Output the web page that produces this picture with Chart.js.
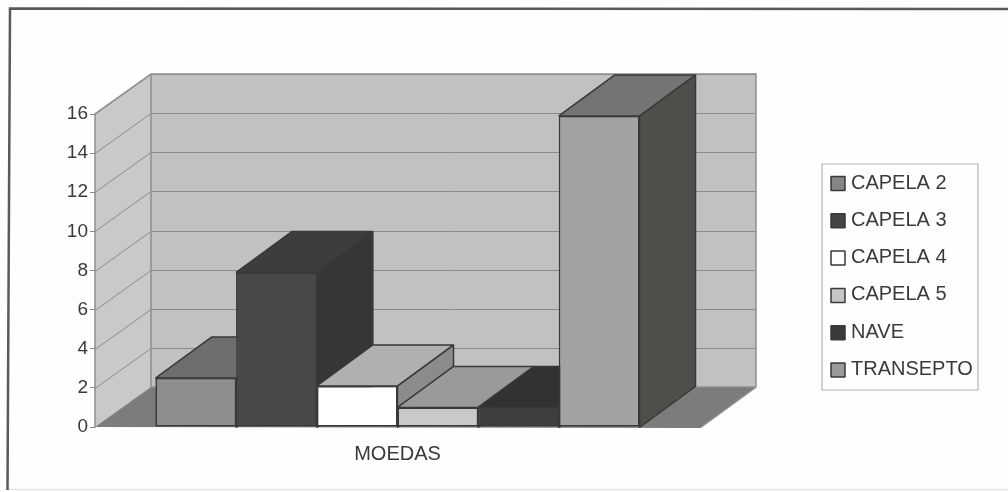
<!DOCTYPE html>
<html><head><meta charset="utf-8">
<style>html,body{margin:0;padding:0;background:#fff}canvas{display:block}</style>
<script src="https://cdn.jsdelivr.net/npm/chart.js@4"></script>
</head><body>
<canvas id="c" width="1008" height="492"></canvas>
<script>
const categories = ['MOEDAS'];
const seriesNames = ['CAPELA 2','CAPELA 3','CAPELA 4','CAPELA 5','NAVE','TRANSEPTO'];
const capela2 = [2.5];
const capela3 = [7.9];
const capela4 = [2.1];
const capela5 = [1];
const nave = [1];
const transepto = [15.9];
const seriesValues = [capela2,capela3,capela4,capela5,nave,transepto];

const frontColors = ['#8e8e8d','#4a4846','#ffffff','#c9c9c9','#403e3c','#a2a2a2'];
const topColors   = ['#706e6c','#3f3d3b','#b0b0b0','#9a9a9a','#343230','#767472'];
const sideColors  = ['#5e5c5a','#383634','#8b8b8a','#777','#2e2c2a','#504e4b'];
const legendColors= ['#858585','#474543','#ffffff','#c6c6c6','#3c3a38','#9a9a9a'];
const DX = 56, DY = 41, INK = '#3a3838', LINE = '#8a8a8a';
const FAMILY = '"Liberation Sans", Arial, sans-serif';

function poly(ctx, pts, fill, stroke, lw){
  ctx.beginPath();
  pts.forEach((p,i)=> i?ctx.lineTo(p[0],p[1]):ctx.moveTo(p[0],p[1]));
  ctx.closePath();
  if(fill){ctx.fillStyle=fill;ctx.fill();}
  if(stroke){ctx.strokeStyle=stroke;ctx.lineWidth=lw||1;ctx.lineJoin='bevel';ctx.stroke();}
}
const scene = {
  id:'scene',
  beforeDraw(chart){
    const ctx = chart.ctx;
    ctx.fillStyle = '#fefefe'; ctx.fillRect(0,0,1008,492);
    ctx.strokeStyle='#e4e4e4'; ctx.lineWidth=1.5;
    ctx.beginPath(); ctx.moveTo(8,489.5); ctx.lineTo(1008,489.5); ctx.stroke();
    ctx.strokeStyle='#5a5a5a'; ctx.lineWidth=2.5;
    ctx.beginPath(); ctx.moveTo(7.5,490); ctx.lineTo(10,8.5); ctx.lineTo(1008,9); ctx.stroke();
  },
  beforeDatasetsDraw(chart){
    const ctx = chart.ctx, xs = chart.scales.x, ys = chart.scales.y;
    const L=xs.left, R=xs.right, B=ys.getPixelForValue(0), T=ys.getPixelForValue(16);
    const dy=40;
    poly(ctx,[[L,T],[L+DX,T-dy],[L+DX,B-dy],[L,B]],'#c9c9c9');
    poly(ctx,[[L+DX,T-dy],[R+DX,T-dy],[R+DX,B-dy],[L+DX,B-dy]],'#c1c1c1');
    poly(ctx,[[L,B],[L+DX,B-dy],[R+DX,B-dy],[R,B+1]],'#7e7c7a');
    ctx.strokeStyle=LINE; ctx.lineWidth=1;
    ys.ticks.forEach(t=>{
      const y=Math.round(ys.getPixelForValue(t.value))+.5;
      ctx.beginPath();
      ctx.moveTo(L,y); ctx.lineTo(L+DX,y-dy);
      if(t.value>0) ctx.lineTo(R+DX,y-dy);
      ctx.stroke();
    });
    ctx.strokeStyle='#8f8f8f'; ctx.lineWidth=1.5;
    ctx.beginPath();
    ctx.moveTo(L,B); ctx.lineTo(L,T); ctx.lineTo(L+DX,T-dy); ctx.lineTo(R+DX,T-dy); ctx.lineTo(R+DX,B-dy); ctx.lineTo(R,B+1);
    ctx.moveTo(L+DX,T-dy); ctx.lineTo(L+DX,B-dy); ctx.lineTo(R+DX,B-dy);
    ctx.stroke();
  },
  afterDatasetsDraw(chart){
    const ctx = chart.ctx;
    seriesNames.forEach((_,i)=>{
      const el = chart.getDatasetMeta(i).data[0];
      const h = el.getProps(['x','y','base','width'],true);
      const l=h.x-h.width/2, r=h.x+h.width/2, t=h.y, b=h.base+1;
      poly(ctx,[[r,t],[r+DX,t-DY],[r+DX,b-DY],[r,b]],sideColors[i],INK,1.5);
      poly(ctx,[[l,t],[l+DX,t-DY],[r+DX,t-DY],[r,t]],topColors[i],INK,1.5);
      el.draw(ctx);
    });
    ctx.save();
    ctx.strokeStyle='#b5b5b5'; ctx.lineWidth=1.2;
    ctx.strokeRect(822,164,156,226);
    ctx.font='20px '+FAMILY; ctx.textAlign='left'; ctx.textBaseline='middle';
    seriesNames.forEach((n,i)=>{
      const y=182+i*37.3;
      ctx.fillStyle=legendColors[i];
      ctx.fillRect(831,y-5.5,14,14);
      ctx.strokeStyle=INK; ctx.lineWidth=1.5;
      ctx.strokeRect(831,y-5.5,14,14);
      ctx.fillStyle='#3a3a3a';
      ctx.fillText(n,851,y+1);
    });
    ctx.restore();
  }
};

new Chart(document.getElementById('c'),{
  type:'bar',
  data:{
    labels:categories,
    datasets:seriesNames.map((n,i)=>({
      label:n,data:seriesValues[i],
      backgroundColor:frontColors[i],borderColor:INK,borderWidth:1.5,borderSkipped:false
    }))
  },
  options:{
    responsive:false,animation:false,
    layout:{padding:{top:114,right:308,left:0,bottom:0}},
    datasets:{bar:{categoryPercentage:0.8,barPercentage:1}},
    plugins:{legend:{display:false},title:{display:false},tooltip:{enabled:false}},
    scales:{
      x:{
        afterFit(s){s.height=65;},
        grid:{display:false},border:{display:false},
        ticks:{color:'#3a3a3a',font:{family:FAMILY,size:20},padding:7}
      },
      y:{
        min:0,max:16,
        afterFit(s){s.width=95;},
        grid:{drawOnChartArea:false,drawTicks:true,tickLength:5,color:'#8a8a8a'},
        border:{display:false},
        ticks:{stepSize:2,color:'#3a3a3a',font:{family:FAMILY,size:19},padding:2}
      }
    }
  },
  plugins:[scene]
});
</script>
</body></html>
